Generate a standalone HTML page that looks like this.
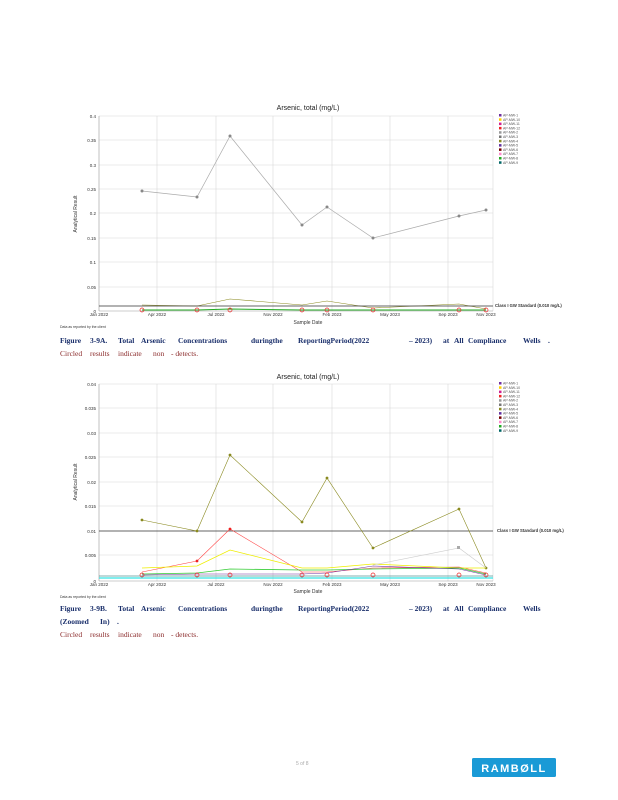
<!DOCTYPE html>
<html><head><style>
body{margin:0;background:#fff;}
svg{display:block;font-family:"Liberation Sans",sans-serif;}
.cap{font-family:"Liberation Serif",serif;font-size:7.5px;font-weight:bold;fill:#1a2f6b;}
.cap2{font-family:"Liberation Serif",serif;font-size:7.5px;fill:#8a2a2a;}
</style></head><body>
<svg width="618" height="800" viewBox="0 0 618 800">
<g font-size="4.5" fill="#333">
<!-- CHART A -->
<text x="308" y="110" font-size="7" text-anchor="middle" fill="#222">Arsenic, total (mg/L)</text>
<g stroke="#d8d8d8" stroke-width="0.6">
<line x1="99" y1="116" x2="493" y2="116"/><line x1="99" y1="140" x2="493" y2="140"/><line x1="99" y1="165" x2="493" y2="165"/><line x1="99" y1="189" x2="493" y2="189"/><line x1="99" y1="213" x2="493" y2="213"/><line x1="99" y1="238" x2="493" y2="238"/><line x1="99" y1="262" x2="493" y2="262"/><line x1="99" y1="287" x2="493" y2="287"/>
<line x1="157" y1="116" x2="157" y2="311"/><line x1="216" y1="116" x2="216" y2="311"/><line x1="273" y1="116" x2="273" y2="311"/><line x1="332" y1="116" x2="332" y2="311"/><line x1="390" y1="116" x2="390" y2="311"/><line x1="448" y1="116" x2="448" y2="311"/><line x1="493" y1="116" x2="493" y2="311"/>
</g>
<line x1="99" y1="116" x2="99" y2="311" stroke="#999" stroke-width="0.6"/>
<line x1="99" y1="311" x2="493" y2="311" stroke="#999" stroke-width="0.6"/>
<g text-anchor="end"><text x="96" y="118">0.4</text><text x="96" y="142">0.35</text><text x="96" y="167">0.3</text><text x="96" y="191">0.25</text><text x="96" y="215">0.2</text><text x="96" y="240">0.15</text><text x="96" y="264">0.1</text><text x="96" y="289">0.05</text><text x="96" y="313">0</text></g>
<g text-anchor="middle"><text x="99" y="316">Jan 2022</text><text x="157" y="316">Apr 2022</text><text x="216" y="316">Jul 2022</text><text x="273" y="316">Nov 2022</text><text x="332" y="316">Feb 2023</text><text x="390" y="316">May 2023</text><text x="448" y="316">Sep 2023</text><text x="486" y="316">Nov 2023</text></g>
<text x="308" y="324" text-anchor="middle" font-size="5">Sample Date</text>
<text transform="translate(77,214) rotate(-90)" text-anchor="middle" font-size="5">Analytical Result</text>
<polyline points="142,191 197,197 230,136 302,225 327,207 373,238 459,216 486,210" fill="none" stroke="#aaa" stroke-width="0.7"/>
<g fill="#888"><circle cx="142" cy="191" r="1.5"/><circle cx="197" cy="197" r="1.5"/><circle cx="230" cy="136" r="1.5"/><circle cx="302" cy="225" r="1.5"/><circle cx="327" cy="207" r="1.5"/><circle cx="373" cy="238" r="1.5"/><circle cx="459" cy="216" r="1.5"/><circle cx="486" cy="210" r="1.5"/></g>
<polyline points="142,305 197,306 230,299 302,305 327,301 373,308 459,304 486,309" fill="none" stroke="#8a8a20" stroke-width="0.6"/>
<line x1="99" y1="306" x2="493" y2="306" stroke="#333" stroke-width="0.8"/>
<polyline points="142,310 197,310 230,309 302,310 327,310 373,310 459,310 486,310" fill="none" stroke="#2a2" stroke-width="1"/>
<g fill="none" stroke="#e22" stroke-width="0.7"><circle cx="142" cy="310" r="2"/><circle cx="197" cy="310" r="2"/><circle cx="230" cy="310" r="2"/><circle cx="302" cy="310" r="2"/><circle cx="327" cy="310" r="2"/><circle cx="373" cy="310" r="2"/><circle cx="459" cy="310" r="2"/><circle cx="486" cy="310" r="2"/></g>
<text x="495" y="307" font-size="4.2" font-weight="bold">Class I GW Standard (0.010 mg/L)</text>
<text x="60" y="328" font-size="3.5">Data as reported by the client</text>
<!-- legend A -->
<g font-size="3.5"><g><rect x="499" y="114" width="2.5" height="2.5" fill="#7030a0"/><rect x="499" y="118.3" width="2.5" height="2.5" fill="#ffd000"/><rect x="499" y="122.6" width="2.5" height="2.5" fill="#d02090"/><rect x="499" y="126.9" width="2.5" height="2.5" fill="#e22"/><rect x="499" y="131.2" width="2.5" height="2.5" fill="#999"/><rect x="499" y="135.5" width="2.5" height="2.5" fill="#777"/><rect x="499" y="139.8" width="2.5" height="2.5" fill="#8a8a20"/><rect x="499" y="144.1" width="2.5" height="2.5" fill="#6030a0"/><rect x="499" y="148.4" width="2.5" height="2.5" fill="#700"/><rect x="499" y="152.7" width="2.5" height="2.5" fill="#f8c"/><rect x="499" y="157" width="2.5" height="2.5" fill="#2a2"/><rect x="499" y="161.3" width="2.5" height="2.5" fill="#066"/></g>
<g fill="#555"><text x="503" y="116.5">AP-MW-1</text><text x="503" y="120.8">AP-MW-10</text><text x="503" y="125.1">AP-MW-11</text><text x="503" y="129.4">AP-MW-12</text><text x="503" y="133.7">AP-MW-2</text><text x="503" y="138">AP-MW-3</text><text x="503" y="142.3">AP-MW-4</text><text x="503" y="146.6">AP-MW-5</text><text x="503" y="150.9">AP-MW-6</text><text x="503" y="155.2">AP-MW-7</text><text x="503" y="159.5">AP-MW-8</text><text x="503" y="163.8">AP-MW-9</text></g></g>

<!-- CHART B -->
<text x="308" y="379" font-size="7" text-anchor="middle" fill="#222">Arsenic, total (mg/L)</text>
<g stroke="#d8d8d8" stroke-width="0.6">
<line x1="99" y1="384" x2="493" y2="384"/><line x1="99" y1="408" x2="493" y2="408"/><line x1="99" y1="433" x2="493" y2="433"/><line x1="99" y1="457" x2="493" y2="457"/><line x1="99" y1="482" x2="493" y2="482"/><line x1="99" y1="506" x2="493" y2="506"/><line x1="99" y1="555" x2="493" y2="555"/>
<line x1="157" y1="384" x2="157" y2="581"/><line x1="216" y1="384" x2="216" y2="581"/><line x1="273" y1="384" x2="273" y2="581"/><line x1="332" y1="384" x2="332" y2="581"/><line x1="390" y1="384" x2="390" y2="581"/><line x1="448" y1="384" x2="448" y2="581"/><line x1="493" y1="384" x2="493" y2="581"/>
</g>
<line x1="99" y1="384" x2="99" y2="581" stroke="#999" stroke-width="0.6"/>
<line x1="99" y1="581" x2="493" y2="581" stroke="#999" stroke-width="0.6"/>
<g text-anchor="end"><text x="96" y="386">0.04</text><text x="96" y="410">0.035</text><text x="96" y="435">0.03</text><text x="96" y="459">0.025</text><text x="96" y="484">0.02</text><text x="96" y="508">0.015</text><text x="96" y="533">0.01</text><text x="96" y="557">0.005</text><text x="96" y="583">0</text></g>
<g text-anchor="middle"><text x="99" y="586">Jan 2022</text><text x="157" y="586">Apr 2022</text><text x="216" y="586">Jul 2022</text><text x="273" y="586">Nov 2022</text><text x="332" y="586">Feb 2023</text><text x="390" y="586">May 2023</text><text x="448" y="586">Sep 2023</text><text x="486" y="586">Nov 2023</text></g>
<text x="308" y="593" text-anchor="middle" font-size="5">Sample Date</text>
<text transform="translate(77,482) rotate(-90)" text-anchor="middle" font-size="5">Analytical Result</text>
<line x1="99" y1="531" x2="493" y2="531" stroke="#333" stroke-width="0.8"/>
<text x="497" y="532" font-size="4.2" font-weight="bold">Class I GW Standard (0.010 mg/L)</text>
<polyline points="142,520 197,531 230,455 302,522 327,478 373,548 459,509 486,568" fill="none" stroke="#8a8a20" stroke-width="0.6"/>
<g fill="#8a8a20"><circle cx="142" cy="520" r="1.4"/><circle cx="197" cy="531" r="1.4"/><circle cx="230" cy="455" r="1.4"/><circle cx="302" cy="522" r="1.4"/><circle cx="327" cy="478" r="1.4"/><circle cx="373" cy="548" r="1.4"/><circle cx="459" cy="509" r="1.4"/><circle cx="486" cy="568" r="1.4"/></g>
<polyline points="142,572 197,561 230,529 302,572 327,572 373,568 459,567 486,573" fill="none" stroke="#f44" stroke-width="0.6"/>
<g fill="#e22"><circle cx="197" cy="561" r="1.4"/><circle cx="230" cy="529" r="1.4"/></g>
<polyline points="142,568 197,566 230,550 302,568 327,568 373,564 459,568 486,568" fill="none" stroke="#ee0" stroke-width="0.8"/>
<polyline points="373,565 459,548 486,568" fill="none" stroke="#ccc" stroke-width="0.6"/>
<rect x="457" y="546" width="3" height="3" fill="#aaa"/>
<polyline points="142,574 197,573 230,569 302,570 327,570 373,569 459,568 486,574" fill="none" stroke="#3c3" stroke-width="0.8"/>
<polyline points="142,575 197,574 230,574 302,574 327,573 373,566 459,569 486,575" fill="none" stroke="#7030a0" stroke-width="0.6"/>
<polyline points="99,576 493,576" fill="none" stroke="#066" stroke-width="0.6"/>
<polyline points="99,578 493,578" fill="none" stroke="#0dd" stroke-width="1"/>
<g fill="none" stroke="#e22" stroke-width="0.7"><circle cx="142" cy="575" r="2"/><circle cx="197" cy="575" r="2"/><circle cx="230" cy="575" r="2"/><circle cx="302" cy="575" r="2"/><circle cx="327" cy="575" r="2"/><circle cx="373" cy="575" r="2"/><circle cx="459" cy="575" r="2"/><circle cx="486" cy="575" r="2"/></g>
<text x="60" y="598" font-size="3.5">Data as reported by the client</text>
<g font-size="3.5"><g><rect x="499" y="382" width="2.5" height="2.5" fill="#7030a0"/><rect x="499" y="386.3" width="2.5" height="2.5" fill="#ffd000"/><rect x="499" y="390.6" width="2.5" height="2.5" fill="#d02090"/><rect x="499" y="394.9" width="2.5" height="2.5" fill="#e22"/><rect x="499" y="399.2" width="2.5" height="2.5" fill="#999"/><rect x="499" y="403.5" width="2.5" height="2.5" fill="#777"/><rect x="499" y="407.8" width="2.5" height="2.5" fill="#8a8a20"/><rect x="499" y="412.1" width="2.5" height="2.5" fill="#6030a0"/><rect x="499" y="416.4" width="2.5" height="2.5" fill="#700"/><rect x="499" y="420.7" width="2.5" height="2.5" fill="#f8c"/><rect x="499" y="425" width="2.5" height="2.5" fill="#2a2"/><rect x="499" y="429.3" width="2.5" height="2.5" fill="#066"/></g>
<g fill="#555"><text x="503" y="384.5">AP-MW-1</text><text x="503" y="388.8">AP-MW-10</text><text x="503" y="393.1">AP-MW-11</text><text x="503" y="397.4">AP-MW-12</text><text x="503" y="401.7">AP-MW-2</text><text x="503" y="406">AP-MW-3</text><text x="503" y="410.3">AP-MW-4</text><text x="503" y="414.6">AP-MW-5</text><text x="503" y="418.9">AP-MW-6</text><text x="503" y="423.2">AP-MW-7</text><text x="503" y="427.5">AP-MW-8</text><text x="503" y="431.8">AP-MW-9</text></g></g>
</g>
<!-- captions -->
<g class="cap"><text x="60" y="343">Figure</text><text x="90" y="343">3-9A.</text><text x="118" y="343">Total</text><text x="141" y="343">Arsenic</text><text x="178" y="343">Concentrations</text><text x="251" y="343">duringthe</text><text x="298" y="343">ReportingPeriod(2022</text><text x="409" y="343">– 2023)</text><text x="443" y="343">at</text><text x="454" y="343">All</text><text x="468" y="343">Compliance</text><text x="523" y="343">Wells</text><text x="548" y="343">.</text></g>
<g class="cap2"><text x="60" y="356">Circled</text><text x="90" y="356">results</text><text x="118" y="356">indicate</text><text x="153" y="356">non</text><text x="171" y="356">- detects.</text></g>
<g class="cap"><text x="60" y="611">Figure</text><text x="90" y="611">3-9B.</text><text x="118" y="611">Total</text><text x="141" y="611">Arsenic</text><text x="178" y="611">Concentrations</text><text x="251" y="611">duringthe</text><text x="298" y="611">ReportingPeriod(2022</text><text x="409" y="611">– 2023)</text><text x="443" y="611">at</text><text x="454" y="611">All</text><text x="468" y="611">Compliance</text><text x="523" y="611">Wells</text><text x="60" y="624">(Zoomed</text><text x="100" y="624">In)</text><text x="117" y="624">.</text></g>
<g class="cap2"><text x="60" y="637">Circled</text><text x="90" y="637">results</text><text x="118" y="637">indicate</text><text x="153" y="637">non</text><text x="171" y="637">- detects.</text></g>
<text x="296" y="765" font-size="5" fill="#aaa">5 of 8</text>
<rect x="472" y="758" width="84" height="19" rx="1.5" fill="#1a9ad6"/>
<text x="514" y="772" font-size="11" font-weight="bold" fill="#fff" text-anchor="middle" letter-spacing="1.5">RAMBØLL</text>
</svg>
</body></html>
